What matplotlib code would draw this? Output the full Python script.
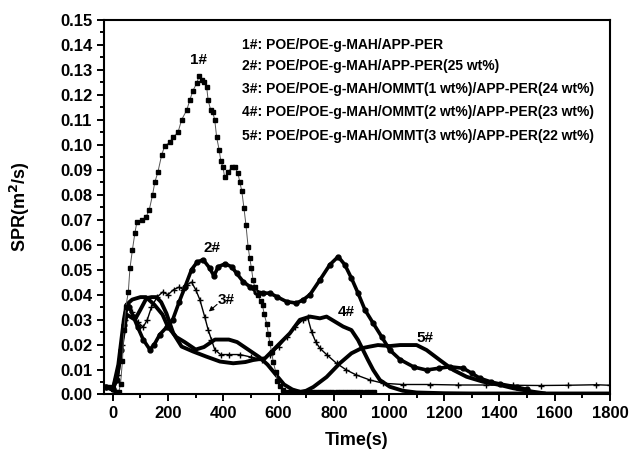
import matplotlib
matplotlib.use("Agg")
import matplotlib.pyplot as plt
from matplotlib.ticker import MultipleLocator, FormatStrFormatter

plt.rcParams["font.family"] = ["Liberation Sans", "DejaVu Sans"]
plt.rcParams["font.weight"] = "bold"

# 1#: POE/POE-g-MAH/APP-PER (square markers)
t1 = [-25, -10, 0, 10, 22, 28, 35, 40, 47, 56, 62, 71, 80, 87, 104, 120, 132, 144,
      152, 163, 177, 188, 206, 217, 236, 249, 268, 279, 290, 304, 312, 322, 330,
      340, 345, 354, 362, 369, 376, 385, 391, 399, 405, 417, 430, 442, 453, 460,
      467, 475, 482, 490, 496, 502, 508, 514, 525, 535, 542, 548, 557, 563, 569,
      575, 581, 590, 595, 605, 616, 630, 645, 660, 675, 690, 705, 720, 735, 750,
      765, 780, 795, 810, 825, 840, 855, 870, 885, 900, 915, 930, 945]
v1 = [0.003, 0.003, 0.002, 0.001, 0.001, 0.0044, 0.0136, 0.0257, 0.035, 0.041,
      0.0505, 0.058, 0.0647, 0.069, 0.070, 0.071, 0.074, 0.080, 0.085, 0.089,
      0.096, 0.0996, 0.101, 0.103, 0.105, 0.110, 0.114, 0.118, 0.1217, 0.1247,
      0.1275, 0.126, 0.125, 0.123, 0.118, 0.114, 0.113, 0.110, 0.103, 0.098,
      0.0935, 0.091, 0.087, 0.089, 0.091, 0.091, 0.0886, 0.085, 0.0815, 0.0745,
      0.068, 0.059, 0.0545, 0.0505, 0.0457, 0.043, 0.0397, 0.0374, 0.0357,
      0.0323, 0.0284, 0.0244, 0.0205, 0.017, 0.013, 0.009, 0.0056, 0.0036,
      0.0016, 0.001, 0.001, 0.001, 0.001, 0.001, 0.001, 0.001, 0.001, 0.001,
      0.001, 0.001, 0.001, 0.001, 0.001, 0.001, 0.001, 0.001, 0.001, 0.001,
      0.001, 0.001, 0.001]

# 2#: POE/POE-g-MAH/APP-PER(25 wt%) (circle markers)
t2 = [-25, 0, 15, 30, 40, 50, 60, 75, 90, 110, 134, 150, 170, 195, 217, 240, 261,
      285, 305, 327, 351, 366, 382, 406, 430, 448, 472, 496, 520, 544, 569, 593,
      629, 665, 689, 714, 750, 786, 816, 840, 864, 888, 913, 943, 973, 1003,
      1040, 1090, 1136, 1180, 1221, 1269, 1300, 1329, 1370, 1402, 1462, 1500]
v2 = [0.003, 0.002, 0.006, 0.018, 0.028, 0.036, 0.035, 0.031, 0.027, 0.022,
      0.018, 0.020, 0.024, 0.027, 0.030, 0.037, 0.043, 0.050, 0.053, 0.054,
      0.0506, 0.0475, 0.0512, 0.0523, 0.0512, 0.0486, 0.0452, 0.0432, 0.0412,
      0.0406, 0.0406, 0.0392, 0.0372, 0.0366, 0.0379, 0.040, 0.0459, 0.052,
      0.0552, 0.052, 0.0466, 0.0406, 0.0339, 0.0285, 0.0232, 0.0178, 0.014,
      0.011, 0.0098, 0.0105, 0.0111, 0.0105, 0.0085, 0.0065, 0.005, 0.0042,
      0.003, 0.002]

# 3#: POE/POE-g-MAH/OMMT(1 wt%)/APP-PER(24 wt%) (cross markers)
t3 = [-25, 0, 20, 35, 45, 55, 70, 90, 110, 125, 140, 160, 180, 200, 220, 240,
      255, 270, 285, 300, 315, 333, 345, 357, 369, 390, 420, 460, 500, 540, 570,
      600, 630, 660, 690, 705, 720, 735, 750, 774, 810, 846, 882, 931, 979, 1050,
      1150, 1250, 1350, 1450, 1550, 1650, 1750, 1800]
v3 = [0.003, 0.002, 0.008, 0.020, 0.030, 0.035, 0.033, 0.029, 0.027, 0.030,
      0.035, 0.039, 0.041, 0.040, 0.042, 0.043, 0.042, 0.044, 0.045, 0.042,
      0.038, 0.031, 0.026, 0.022, 0.018, 0.016, 0.016, 0.016, 0.015, 0.014,
      0.016, 0.019, 0.023, 0.027, 0.030, 0.031, 0.025, 0.021, 0.0185, 0.016,
      0.0125, 0.0098, 0.0078, 0.0058, 0.0045, 0.004, 0.004, 0.0038, 0.0038,
      0.0037, 0.0036, 0.0037, 0.0039, 0.0037]

# 4#: POE/POE-g-MAH/OMMT(2 wt%)/APP-PER(23 wt%)
t4 = [-25, 0, 20, 35, 50, 65, 80, 100, 122, 140, 158, 175, 194, 219, 249, 291,
      338, 388, 436, 480, 508, 551, 587, 641, 677, 714, 750, 774, 804, 834, 864,
      888, 906, 924, 943, 967, 1003, 1050, 1100, 1200, 1300, 1400, 1500, 1600,
      1700, 1800]
v4 = [0.003, 0.002, 0.010, 0.022, 0.032, 0.031, 0.030, 0.034, 0.0386, 0.039,
      0.039, 0.037, 0.0325, 0.0245, 0.0192, 0.0172, 0.0152, 0.0132, 0.0125,
      0.013, 0.0138, 0.0145, 0.0185, 0.0245, 0.0299, 0.0312, 0.0305, 0.0312,
      0.0292, 0.0272, 0.0258, 0.0218, 0.0178, 0.0138, 0.0098, 0.0058, 0.0031,
      0.0015, 0.0008, 0.0005, 0.0004, 0.0004, 0.0004, 0.0004, 0.0004, 0.0004]

# 5#: POE/POE-g-MAH/OMMT(3 wt%)/APP-PER(22 wt%)
t5 = [-25, 0, 20, 40, 50, 70, 100, 120, 150, 180, 200, 230, 260, 300, 330, 370,
      420, 450, 490, 530, 560, 590, 620, 650, 680, 700, 726, 774, 822, 864, 900,
      931, 960, 1003, 1040, 1100, 1136, 1184, 1233, 1281, 1341, 1402, 1450, 1522,
      1560]
v5 = [0.003, 0.002, 0.012, 0.030, 0.036, 0.038, 0.039, 0.039, 0.036, 0.032,
      0.027, 0.023, 0.021, 0.018, 0.019, 0.022, 0.022, 0.021, 0.018, 0.015,
      0.012, 0.008, 0.004, 0.002, 0.001, 0.0015, 0.003, 0.007, 0.0125, 0.0165,
      0.0185, 0.0192, 0.0198, 0.0194, 0.0198, 0.0198, 0.0178, 0.0138, 0.0098,
      0.0071, 0.0051, 0.0038, 0.0025, 0.0011, 0.0005]

legend_lines = [
    "1#: POE/POE-g-MAH/APP-PER",
    "2#: POE/POE-g-MAH/APP-PER(25 wt%)",
    "3#: POE/POE-g-MAH/OMMT(1 wt%)/APP-PER(24 wt%)",
    "4#: POE/POE-g-MAH/OMMT(2 wt%)/APP-PER(23 wt%)",
    "5#: POE/POE-g-MAH/OMMT(3 wt%)/APP-PER(22 wt%)",
]

fig = plt.figure(figsize=(6.36, 4.51), dpi=100)
ax = fig.add_axes([0.1635, 0.1253, 0.7955, 0.8304])

ax.plot(t1, v1, color="#555555", lw=0.7, marker="s", ms=3.2,
        mfc="black", mec="black", zorder=5)
ax.plot(t2, v2, color="black", lw=2.6, marker="o", ms=3.5, zorder=4)
ax.plot(t3, v3, color="black", lw=1.0, marker="+", ms=4.5, mew=1.0, zorder=4)
ax.plot(t4, v4, color="black", lw=2.8, zorder=3)
ax.plot(t5, v5, color="black", lw=2.8, zorder=3)

ax.set_xlim(-32, 1800)
ax.set_ylim(0, 0.15)
ax.xaxis.set_major_locator(MultipleLocator(200))
ax.xaxis.set_minor_locator(MultipleLocator(100))
ax.yaxis.set_major_locator(MultipleLocator(0.01))
ax.yaxis.set_minor_locator(MultipleLocator(0.005))
ax.yaxis.set_major_formatter(FormatStrFormatter("%.2f"))

for s in ax.spines.values():
    s.set_linewidth(1.5)
ax.tick_params(which="both", direction="out", top=False, right=False, width=1.4)
ax.tick_params(which="major", length=5, labelsize=12)
ax.tick_params(which="minor", length=3)
for lab in ax.get_xticklabels() + ax.get_yticklabels():
    lab.set_fontweight("bold")

ax.set_xlabel("Time(s)", fontsize=13, fontweight="bold", labelpad=8)
ax.set_ylabel("SPR(m$^\\mathbf{2}$/s)", fontsize=13, fontweight="bold", labelpad=20)

ys = [0.1399, 0.1315, 0.1223, 0.1131, 0.1035]
for y, txt in zip(ys, legend_lines):
    ax.text(0.272, y, txt, transform=ax.get_yaxis_transform(), fontsize=10,
            fontweight="bold", va="center", ha="left")

ax.text(312, 0.134, "1#", fontsize=11, fontweight="bold", ha="center", va="center")
ax.text(360, 0.0585, "2#", fontsize=11, fontweight="bold", ha="center", va="center")
ax.text(410, 0.0378, "3#", fontsize=11, fontweight="bold", ha="center", va="center")
ax.annotate("", xy=(340, 0.0325), xytext=(385, 0.0368),
            arrowprops=dict(arrowstyle="-|>", color="black", lw=0.8,
                            mutation_scale=7))
ax.text(845, 0.0331, "4#", fontsize=11, fontweight="bold", ha="center", va="center")
ax.text(1130, 0.0228, "5#", fontsize=11, fontweight="bold", ha="center", va="center")

fig.savefig("out.png", dpi=100)
